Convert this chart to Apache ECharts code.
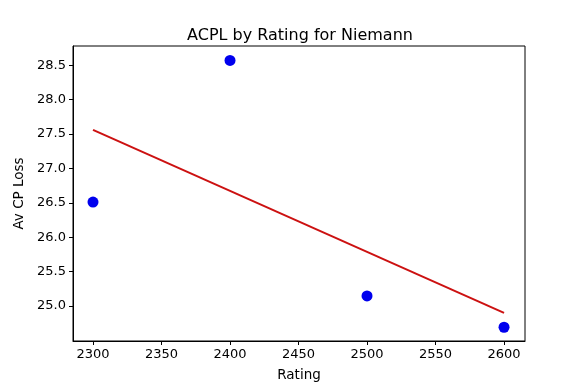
<!DOCTYPE html>
<html><head><meta charset="utf-8">
<script src="https://cdn.jsdelivr.net/npm/echarts@6/dist/echarts.min.js"></script>
<style>html,body{margin:0;padding:0;background:#fff}#c{width:583px;height:389px}</style>
</head><body><div id="c"></div>
<script>
const ratings = [2300, 2400, 2500, 2600];
const acpl = [26.51, 28.57, 25.145, 24.69];
const trendX = [2300, 2600];
const trendY = [27.56, 24.90];
const xTicks = [2300, 2350, 2400, 2450, 2500, 2550, 2600];
const yTicks = [25.0, 25.5, 26.0, 26.5, 27.0, 27.5, 28.0, 28.5];

const font = 'DejaVu Sans';
const chart = echarts.init(document.getElementById('c'));
chart.setOption({
  animation: false,
  title: {text: 'ACPL by Rating for Niemann', left: 295, top: 23, textAlign: 'center',
    textStyle: {fontFamily: font, fontSize: 16, fontWeight: 'normal', color: '#000'}},
  grid: {left: 73, right: 58, top: 46, bottom: 48, show: true, borderColor: '#000', borderWidth: 1},
  xAxis: {type: 'value', min: 2285.4, max: 2615.3,
    name: 'Rating', nameLocation: 'middle', nameGap: 27,
    nameTextStyle: {fontFamily: font, fontSize: 13.5, color: '#000'},
    axisLine: {show: true, lineStyle: {color: '#000', width: 1}},
    axisTick: {show: true, length: 4, lineStyle: {color: '#000'}, customValues: xTicks},
    axisLabel: {fontFamily: font, fontSize: 13, color: '#000', margin: 7, customValues: xTicks,
      formatter: v => String(v)},
    splitLine: {show: false}},
  yAxis: {type: 'value', min: 24.49, max: 28.78,
    name: 'Av CP Loss', nameLocation: 'middle', nameGap: 47,
    nameTextStyle: {fontFamily: font, fontSize: 13.5, color: '#000'},
    axisLine: {show: true, lineStyle: {color: '#000', width: 1}},
    axisTick: {show: true, length: 4, lineStyle: {color: '#000'}, customValues: yTicks},
    axisLabel: {fontFamily: font, fontSize: 13, color: '#000', margin: 7, customValues: yTicks,
      formatter: v => v.toFixed(1)},
    splitLine: {show: false}},
  series: [
    {type: 'scatter', data: ratings.map((r, i) => [r, acpl[i]]), symbolSize: 11,
      itemStyle: {color: '#0000ee', opacity: 1}, z: 3},
    {type: 'line', data: trendX.map((r, i) => [r, trendY[i]]), showSymbol: false, symbol: 'none',
      lineStyle: {color: '#cc1111', width: 2}, z: 2}
  ]
});
</script></body></html>
